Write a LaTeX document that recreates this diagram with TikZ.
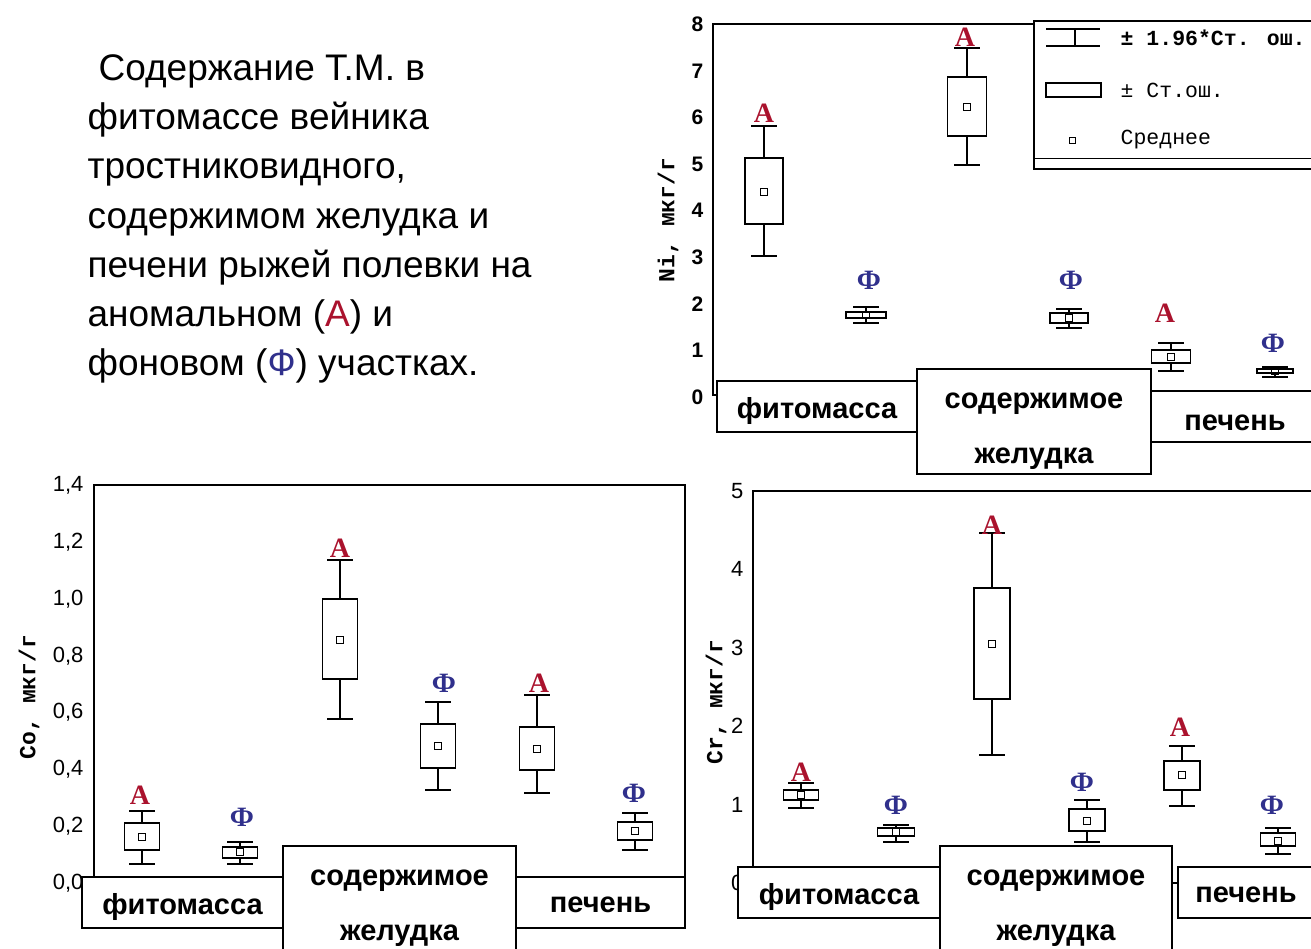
\documentclass[tikz,border=0pt]{standalone}
\usepackage{fontspec}
\setmainfont{Liberation Sans}
\newfontfamily\monofont{Liberation Mono}
\newfontfamily\serifont{Liberation Serif}
\definecolor{anom}{RGB}{170,18,45}
\definecolor{fon}{RGB}{48,48,140}

% box with whiskers: x, half width, box top, box bottom, whisker top, whisker bottom, mean
\newcommand{\whbox}[7]{%
  \draw (#1,#5) -- (#1,#6);
  \draw (#1-13,#5) -- (#1+13,#5) (#1-13,#6) -- (#1+13,#6);
  \draw[fill=white] (#1-#2,#3) rectangle (#1+#2,#4);
  \draw[line width=1.1pt] (#1-3.5,#7-3.5) rectangle (#1+3.5,#7+3.5);
}
% struts to push the category texts down
\newcommand{\st}[1]{\rule{0pt}{#1pt}}

\tikzset{
  catbox/.style={draw, fill=white, line width=1.5pt, inner sep=0pt, align=center,
    font=\bfseries\fontsize{29}{55}\selectfont},
  tickb/.style={anchor=east, inner sep=0pt, font=\bfseries\fontsize{21}{21}\selectfont},
  tickr/.style={anchor=east, inner sep=0pt, font=\fontsize{22}{22}\selectfont},
  ylab/.style={rotate=90, inner sep=0pt, font=\monofont\bfseries\fontsize{23}{23}\selectfont},
  lblA/.style={inner sep=0pt, text=anom, font=\serifont\bfseries\fontsize{28}{28}\selectfont},
  lblF/.style={inner sep=0pt, text=fon, font=\serifont\bfseries\fontsize{28}{28}\selectfont},
  legtext/.style={anchor=west, inner sep=0pt, font=\monofont\fontsize{21.5}{21.5}\selectfont},
  titletext/.style={inner sep=0pt, align=left, font=\fontsize{37}{49.2}\selectfont}
}

\begin{document}
\begin{tikzpicture}[x=1pt,y=-1pt,line width=1.3pt]
  \useasboundingbox (0,0) rectangle (1311,948);
  \clip (0,0) rectangle (1311,948);

  % title
  \node[titletext, anchor=north west] (title) at (87,54)
    {\hspace*{11pt}Содержание Т.М. в\\фитомассе вейника\\тростниковидного,\\содержимом желудка и\\
     печени рыжей полевки на\\аномальном ({\color{anom}А}) и\\фоновом ({\color{fon}Ф}) участках.};

  % Ni
  \draw (1034,24) -- (713,24) -- (713,395) -- (1311,395);
  \foreach \v in {0,...,8}
    \node[tickb] (nit\v) at (704,{397-46.6*\v}) {\v};
  \node[ylab] (niy) at (668,220) {Ni, мкг/г};
  \whbox{764}{19}{158}{224}{126}{256}{192}
  \whbox{866}{20}{312}{318}{307}{323}{315}
  \whbox{967}{19.5}{77}{136}{48}{165}{107}
  \whbox{1069}{19}{313}{323}{309}{328}{318}
  \whbox{1171}{19.5}{350}{363}{343}{371}{357}
  \whbox{1275}{18}{369}{373}{367}{377}{371}
  \node[lblA] (nia1) at (764,113) {А};
  \node[lblF] (nif1) at (869,280) {Ф};
  \node[lblA] (nia2) at (965,37) {А};
  \node[lblF] (nif2) at (1071,280) {Ф};
  \node[lblA] (nia3) at (1165,313) {А};
  \node[lblF] (nif3) at (1273,343) {Ф};
  \node[catbox, minimum width=200pt, minimum height=51pt] (nic1) at (817,406.5) {\st{30}фитомасса};
  \node[catbox, minimum width=168pt, minimum height=51pt] (nic3) at (1235,416.5) {\st{28}печень};
  \node[catbox, minimum width=234pt, minimum height=105pt] (nic2) at (1034,421.5) {\st{35}содержимое\\желудка};

  % legend
  \draw[line width=2.2pt, fill=white] (1034,21) rectangle (1330,169);
  \draw[line width=1pt] (1034,158) -- (1311,158);
  \draw (1046,29) -- (1100,29) (1046,46) -- (1100,46) (1075,29) -- (1075,46);
  \draw (1046,83) rectangle (1101,97);
  \draw[line width=1pt] (1069,137) rectangle (1075,143);
  \node[legtext, font=\monofont\bfseries\fontsize{21.5}{21.5}\selectfont] (leg1) at (1120,38) {± 1.96*Ст. ош.};
  \node[legtext] (leg2) at (1120,90) {± Ст.ош.};
  \node[legtext] (leg3) at (1120,140) {Среднее};

  % Co
  \draw (94,485) rectangle (685,879);
  \foreach \v/\t in {0/{0,0},1/{0,2},2/{0,4},3/{0,6},4/{0,8},5/{1,0},6/{1,2},7/{1,4}}
    \node[tickr] (cot\v) at (84,{883-56.8*\v}) {\t};
  \node[ylab] (coy) at (29,697) {Co, мкг/г};
  \whbox{142}{17.5}{823}{850}{811}{864}{837}
  \whbox{240}{17.5}{847}{858}{842}{864}{852}
  \whbox{340}{17.5}{599}{679}{560}{719}{640}
  \whbox{438}{17.5}{724}{768}{702}{790}{746}
  \whbox{537}{17.5}{727}{770}{695}{793}{749}
  \whbox{635}{17.5}{822}{840}{813}{850}{831}
  \node[lblA] (coa1) at (140,795) {А};
  \node[lblF] (cof1) at (242,817) {Ф};
  \node[lblA] (coa2) at (340,548) {А};
  \node[lblF] (cof2) at (444,683) {Ф};
  \node[lblA] (coa3) at (539,683) {А};
  \node[lblF] (cof3) at (634,793) {Ф};
  \node[catbox, minimum width=201pt, minimum height=51pt] (coc1) at (182.5,902.5) {\st{30}фитомасса};
  \node[catbox, minimum width=169pt, minimum height=51pt] (coc3) at (600.5,902.5) {\st{21}печень};
  \node[catbox, minimum width=233pt, minimum height=114pt] (coc2) at (399.5,903) {\st{26}содержимое\\желудка};

  % Cr
  \draw (1311,491) -- (753,491) -- (753,883) -- (1311,883);
  \foreach \v in {0,...,5}
    \node[tickr] (crt\v) at (744,{883-78.4*\v}) {\v};
  \node[ylab] (cry) at (716,702) {Cr, мкг/г};
  \whbox{801}{17.5}{790}{800}{783}{808}{795}
  \whbox{896}{18.5}{828}{836}{825}{842}{832}
  \whbox{992}{18}{588}{699}{533}{755}{644}
  \whbox{1087}{18}{809}{831}{800}{842}{821}
  \whbox{1182}{18}{761}{790}{746}{806}{775}
  \whbox{1278}{17.5}{833}{846}{828}{854}{841}
  \node[lblA] (cra1) at (801,772) {А};
  \node[lblF] (crf1) at (896,805) {Ф};
  \node[lblA] (cra2) at (992,525) {А};
  \node[lblF] (crf2) at (1082,782) {Ф};
  \node[lblA] (cra3) at (1180,727) {А};
  \node[lblF] (crf3) at (1272,805) {Ф};
  \node[catbox, minimum width=202pt, minimum height=51pt] (crc1) at (839,892.5) {\st{30}фитомасса};
  \node[catbox, minimum width=136pt, minimum height=51pt] (crc3) at (1246,892.5) {\st{21}печень};
  \node[catbox, minimum width=232pt, minimum height=114pt] (crc2) at (1056,903) {\st{26}содержимое\\желудка};
\end{tikzpicture}
\end{document}
